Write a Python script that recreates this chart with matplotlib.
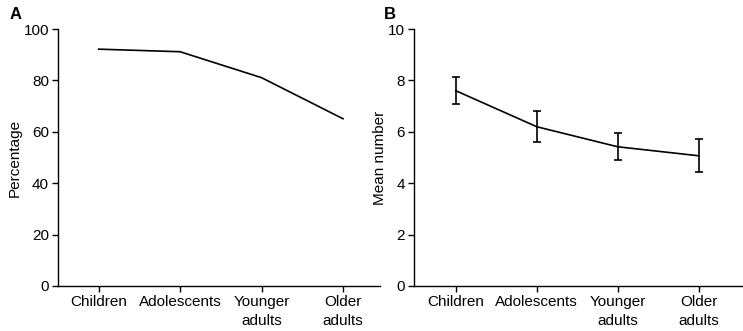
import matplotlib.pyplot as plt
import numpy as np

plt.rcParams["font.family"] = ["Liberation Sans", "DejaVu Sans"]

# data
groups = ["Children", "Adolescents", "Younger\nadults", "Older\nadults"]
percentage = [92.2, 91.2, 81.1, 65.1]
mean_number = [7.6, 6.2, 5.42, 5.07]
mean_upper = [8.12, 6.81, 5.94, 5.71]
mean_lower = [7.1, 5.62, 4.89, 4.42]

FS = 11


def style_axis(ax, ylabel, ymax, step, label_x):
    ax.spines["top"].set_visible(False)
    ax.spines["right"].set_visible(False)
    for side in ("left", "bottom"):
        ax.spines[side].set_linewidth(1.0)
    ax.set_ylim(0, ymax)
    ax.set_yticks(np.arange(0, ymax + step / 2, step))
    ax.set_xticks(range(len(groups)))
    ax.set_xticklabels(groups, fontsize=FS, linespacing=1.45)
    ax.tick_params(axis="both", direction="out", length=4, width=1.0, labelsize=FS, pad=2.5)
    ax.set_ylabel(ylabel, fontsize=FS, va="center")
    ax.yaxis.set_label_coords(label_x, 0.5)


fig = plt.figure(figsize=(7.43, 3.31), dpi=100)

ax_a = fig.add_axes([0.078, 0.136, 0.433, 0.776])
x = np.arange(len(groups))
ax_a.plot(x, percentage, color="black", linewidth=1.2)
style_axis(ax_a, "Percentage", 100, 20, -0.134)
ax_a.set_xlim(-0.5, 3.45)

ax_b = fig.add_axes([0.557, 0.136, 0.443, 0.776])
mean = np.array(mean_number)
yerr = [mean - np.array(mean_lower), np.array(mean_upper) - mean]
ax_b.errorbar(x, mean, yerr=yerr, color="black", linewidth=1.2,
              elinewidth=1.2, capsize=3, capthick=1.2)
style_axis(ax_b, "Mean number", 10, 2, -0.103)
ax_b.set_xlim(-0.52, 3.55)

fig.text(0.013, 0.955, "A", fontsize=12, fontweight="bold", va="center")
fig.text(0.516, 0.955, "B", fontsize=12, fontweight="bold", va="center")

fig.savefig("out.png", dpi=100, facecolor="white")
